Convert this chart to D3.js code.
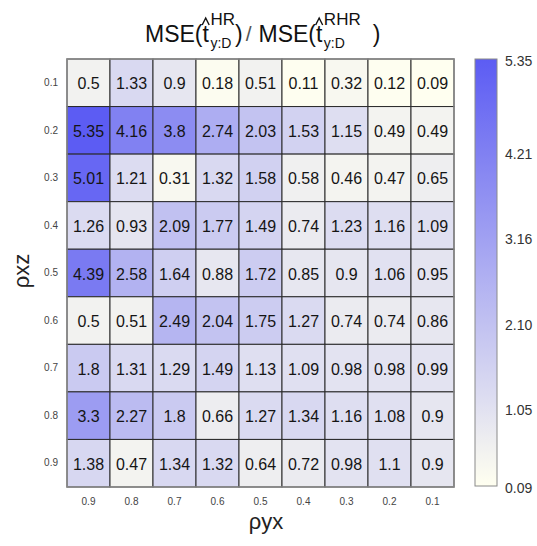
<!DOCTYPE html>
<html>
<head>
<meta charset="utf-8">
<script src="https://cdn.jsdelivr.net/npm/d3@7"></script>
<style>
html,body{margin:0;padding:0;background:#fff;}
svg{display:block;font-family:"Liberation Sans",Arial,sans-serif;}
</style>
</head>
<body>
<svg id="chart" width="537" height="546"></svg>
<script>
// ---- data ----
const rhoYX = ["0.9","0.8","0.7","0.6","0.5","0.4","0.3","0.2","0.1"]; // columns
const rhoXZ = ["0.1","0.2","0.3","0.4","0.5","0.6","0.7","0.8","0.9"]; // rows
const row01 = [0.5, 1.33, 0.9, 0.18, 0.51, 0.11, 0.32, 0.12, 0.09];
const row02 = [5.35, 4.16, 3.8, 2.74, 2.03, 1.53, 1.15, 0.49, 0.49];
const row03 = [5.01, 1.21, 0.31, 1.32, 1.58, 0.58, 0.46, 0.47, 0.65];
const row04 = [1.26, 0.93, 2.09, 1.77, 1.49, 0.74, 1.23, 1.16, 1.09];
const row05 = [4.39, 2.58, 1.64, 0.88, 1.72, 0.85, 0.9, 1.06, 0.95];
const row06 = [0.5, 0.51, 2.49, 2.04, 1.75, 1.27, 0.74, 0.74, 0.86];
const row07 = [1.8, 1.31, 1.29, 1.49, 1.13, 1.09, 0.98, 0.98, 0.99];
const row08 = [3.3, 2.27, 1.8, 0.66, 1.27, 1.34, 1.16, 1.08, 0.9];
const row09 = [1.38, 0.47, 1.34, 1.32, 0.64, 0.72, 0.98, 1.1, 0.9];
const rows = [row01,row02,row03,row04,row05,row06,row07,row08,row09];
const legendTicks = [5.35, 4.21, 3.16, 2.10, 1.05, 0.09];
const legendLabels = ["5.35","4.21","3.16","2.10","1.05","0.09"];
const vMin = 0.09, vMax = 5.35;

// ---- layout ----
const svg = d3.select("#chart");
const L = 67, R = 454, T = 59, B = 487;
const x = d3.scaleBand().domain(rhoYX).range([L, R]);
const y = d3.scaleBand().domain(rhoXZ).range([T, B]);
const color = d3.scaleLinear().domain([vMin, vMax]).range(["#fffff0", "#5c5cf3"]).interpolate(d3.interpolateRgb);

const cells = [];
rows.forEach((r, i) => r.forEach((v, j) => cells.push({row: rhoXZ[i], col: rhoYX[j], v})));

svg.append("g").selectAll("rect").data(cells).join("rect")
  .attr("x", d => x(d.col)).attr("y", d => y(d.row))
  .attr("width", x.bandwidth()).attr("height", y.bandwidth())
  .attr("fill", d => color(d.v))
  .attr("stroke", "#2a2a2a").attr("stroke-width", 1);

svg.append("rect").attr("x", L).attr("y", T).attr("width", R - L).attr("height", B - T)
  .attr("fill", "none").attr("stroke", "#8a8a8a").attr("stroke-width", 1.5);

svg.append("g").selectAll("text").data(cells).join("text")
  .attr("x", d => x(d.col) + x.bandwidth() / 2)
  .attr("y", d => y(d.row) + y.bandwidth() / 2 + 1)
  .attr("text-anchor", "middle").attr("dominant-baseline", "central")
  .attr("font-size", 16).attr("fill", "#151515")
  .text(d => d.v);

// axes ticks
const xAxis = d3.axisBottom(x).tickSize(0).tickPadding(11);
const gx = svg.append("g").attr("transform", `translate(0,${B})`).call(xAxis);
gx.select(".domain").remove();
gx.selectAll("text").attr("font-size", 10).attr("fill", "#444").attr("font-family", "Liberation Sans, Arial, sans-serif");

const yAxis = d3.axisLeft(y).tickSize(0).tickPadding(9);
const gy = svg.append("g").attr("transform", `translate(${L},0)`).call(yAxis);
gy.select(".domain").remove();
gy.selectAll("text").attr("font-size", 10).attr("fill", "#444").attr("font-family", "Liberation Sans, Arial, sans-serif");

// axis titles
svg.append("text").attr("x", 266).attr("y", 529).attr("text-anchor", "middle")
  .attr("font-size", 22).attr("fill", "#222").text("ρyx");
svg.append("text").attr("transform", "translate(29,271) rotate(-90)").attr("text-anchor", "middle")
  .attr("font-size", 22).attr("fill", "#222").text("ρxz");

// legend
const LB = {x: 475, w: 22, top: 59, bottom: 486};
const defs = svg.append("defs");
const grad = defs.append("linearGradient").attr("id", "lg").attr("x1", 0).attr("y1", 1).attr("x2", 0).attr("y2", 0);
d3.range(0, 1.0001, 0.1).forEach(t => {
  grad.append("stop").attr("offset", t).attr("stop-color", color(vMin + t * (vMax - vMin)));
});
svg.append("rect").attr("x", LB.x).attr("y", LB.top).attr("width", LB.w).attr("height", LB.bottom - LB.top)
  .attr("fill", "url(#lg)").attr("stroke", "#8a8a8a").attr("stroke-width", 1);
const ly = d3.scaleLinear().domain([vMin, vMax]).range([LB.bottom, LB.top]);
svg.append("g").selectAll("text").data(legendTicks).join("text")
  .attr("x", 505).attr("y", d => ly(d) + 2)
  .attr("dominant-baseline", "central").attr("font-size", 14).attr("fill", "#333")
  .text((d, i) => legendLabels[i]);

// title
const tg = svg.append("g").attr("transform", "translate(145,0)");
let cx = 0;
const base = 42, big = 23, supS = 17, subS = 14;
function piece(str, size, yy, fill) {
  const t = tg.append("text").attr("x", cx).attr("y", yy).attr("font-size", size).attr("fill", fill || "#111").text(str);
  return t.node().getComputedTextLength();
}
function hatT() {
  const w = piece("t", big, base);
  const hx = cx + w / 2;
  tg.append("path").attr("d", `M${hx - 3.5},25 L${hx},18 L${hx + 3.5},25`)
    .attr("fill", "none").attr("stroke", "#111").attr("stroke-width", 1.4);
  cx += w + 1.5;
}
function scripts(sup, sub) {
  const w1 = piece(sup, supS, 25);
  const w2 = piece(sub, subS, 48);
  cx += Math.max(w1, w2);
}
cx += piece("MSE(", big, base);
hatT();
scripts("HR", "y:D");
cx += piece(")", big, base) + 3;
cx += piece("/", big - 2, base - 1, "#555") + 7;
cx += piece("MSE(", big, base);
hatT();
scripts("RHR", "y:D");
cx += 12;
cx += piece(")", big, base);
</script>
</body>
</html>
